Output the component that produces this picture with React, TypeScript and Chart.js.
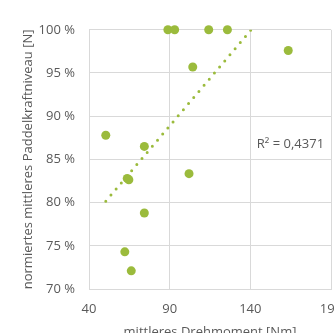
import React, { useEffect, useRef } from "react";
import { Chart, registerables } from "chart.js";

Chart.register(...registerables);

const torqueNm = [88.9, 93.1, 114.2, 125.8, 163.5, 104.3, 50.4, 74.3, 102.0, 63.7, 64.7, 74.3, 62.2, 66.2];
const paddleForcePct = [100, 100, 100, 100, 97.6, 95.7, 87.8, 86.5, 83.35, 82.8, 82.65, 78.8, 74.3, 72.1];
const xTicks = [40, 90, 140, 190];
const yTicks = [70, 75, 80, 85, 90, 95, 100];
const xTitle = "mittleres Drehmoment [Nm]";
const yTitle = "normiertes mittleres Paddelkraftniveau [N]";
const r2Label = "R² = 0,4371";
const r2Anchor = { x: 185.7, y: 86.8 };

const GREEN = "#9bbb3c";
const TEXT = "#595959";
const GRID = "#d9d9d9";
const FONT = "'Open Sans', sans-serif";

function regression(xs: number[], ys: number[]) {
  const n = xs.length;
  const mx = xs.reduce((a, b) => a + b, 0) / n;
  const my = ys.reduce((a, b) => a + b, 0) / n;
  let sxy = 0, sxx = 0;
  for (let i = 0; i < n; i++) {
    sxy += (xs[i] - mx) * (ys[i] - my);
    sxx += (xs[i] - mx) ** 2;
  }
  const slope = sxy / sxx;
  return { slope, intercept: my - slope * mx };
}

export default function App() {
  const ref = useRef<HTMLCanvasElement | null>(null);
  useEffect(() => {
    if (!ref.current) return;
    const pts = torqueNm.map((x, i) => ({ x, y: paddleForcePct[i] }));
    const { slope, intercept } = regression(torqueNm, paddleForcePct);
    const minX = Math.min(...torqueNm);
    const maxX = Math.max(...torqueNm);
    const trend = [
      { x: minX, y: intercept + slope * minX },
      { x: maxX, y: intercept + slope * maxX },
    ];
    const r2Plugin = {
      id: "r2",
      afterDatasetsDraw(chart: any) {
        const { ctx, scales } = chart;
        ctx.save();
        ctx.font = `13px ${FONT}`;
        ctx.fillStyle = TEXT;
        ctx.textAlign = "right";
        ctx.textBaseline = "middle";
        ctx.fillText(r2Label, scales.x.getPixelForValue(r2Anchor.x), scales.y.getPixelForValue(r2Anchor.y));
        ctx.restore();
      },
    };
    const chart = new Chart(ref.current, {
      type: "scatter",
      data: {
        datasets: [
          {
            type: "line",
            data: trend,
            borderColor: GREEN,
            borderWidth: 3,
            borderDash: [0, 8],
            borderCapStyle: "round",
            pointRadius: 0,
            fill: false,
            order: 2,
          } as any,
          {
            data: pts,
            backgroundColor: GREEN,
            borderColor: GREEN,
            borderWidth: 0,
            pointRadius: 4.5,
            pointHoverRadius: 4.5,
            clip: false,
            order: 1,
          } as any,
        ],
      },
      options: {
        responsive: false,
        animation: false,
        events: [],
        layout: { padding: { top: 9, right: 37, left: 0, bottom: 0 } },
        plugins: { legend: { display: false }, tooltip: { enabled: false } },
        scales: {
          x: {
            type: "linear",
            min: 40,
            max: 190,
            afterBuildTicks: (s: any) => { s.ticks = xTicks.map((v) => ({ value: v })); },
            afterFit: (s: any) => { s.height = 69; },
            grid: { color: GRID, drawTicks: false },
            border: { display: true, color: GRID },
            ticks: { color: TEXT, font: { family: FONT, size: 13 }, padding: 12, maxRotation: 0 },
            title: { display: true, text: xTitle, color: TEXT, font: { family: FONT, size: 13 }, padding: { top: 0, bottom: 18 } },
          },
          y: {
            type: "linear",
            min: 70,
            max: 100,
            afterBuildTicks: (s: any) => { s.ticks = yTicks.map((v) => ({ value: v })); },
            afterFit: (s: any) => { s.width = 81; },
            grid: { color: GRID, drawTicks: false },
            border: { display: true, color: GRID },
            ticks: { color: TEXT, font: { family: FONT, size: 13 }, padding: 14, callback: (v: any) => `${v} %` },
            title: { display: true, text: yTitle, color: TEXT, font: { family: FONT, size: 13 }, padding: { top: 12, bottom: 0 } },
          },
        },
      },
      plugins: [r2Plugin],
    } as any);
    return () => chart.destroy();
  }, []);
  return (
    <div style={{ position: "fixed", left: 0, top: 0, width: 334, height: 333, overflow: "hidden" }}>
      <canvas ref={ref} width={360} height={350} style={{ display: "block", position: "absolute", left: 8, top: 8 }} />
    </div>
  );
}
